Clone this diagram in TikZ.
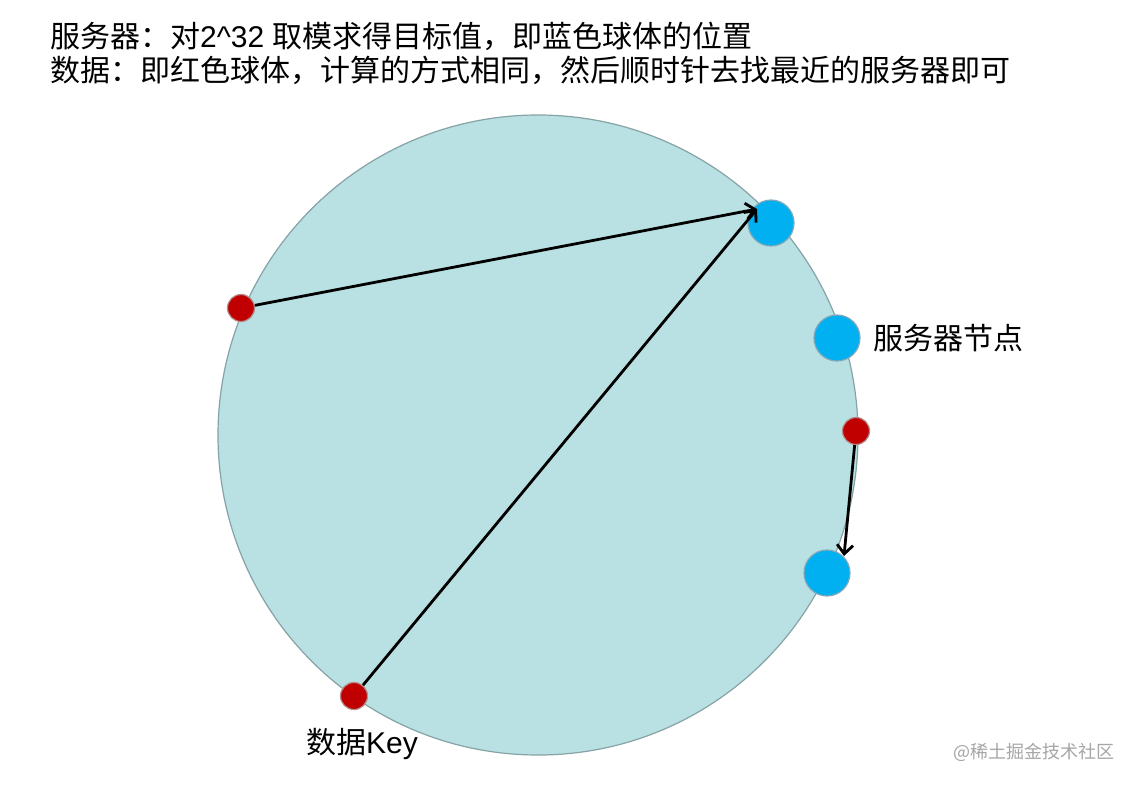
\documentclass[tikz,border=0pt]{standalone}
\usepackage{fontspec}
\setmainfont{Liberation Sans}
\newfontfamily\cjk{Noto Sans CJK SC}
\usetikzlibrary{arrows.meta}
\definecolor{ringfill}{HTML}{B9E0E2}
\definecolor{ringline}{HTML}{86A3A5}
\definecolor{srvblue}{HTML}{00B0F0}
\definecolor{srvline}{HTML}{7FA8BA}
\definecolor{keyred}{HTML}{C00000}
\definecolor{keyline}{HTML}{B58A8A}
\tikzset{
  ring/.style={circle, draw=ringline, fill=ringfill, line width=1.2pt, minimum size=640pt, inner sep=0pt},
  server/.style={circle, draw=srvline, fill=srvblue, line width=1.2pt, minimum size=46pt, inner sep=0pt},
  datakey/.style={circle, draw=keyline, fill=keyred, line width=1.2pt, minimum size=27pt, inner sep=0pt},
  link/.style={draw=black, line width=2.8pt, -{Straight Barb[length=9pt,width=16pt,line width=2.8pt]}},
  bigtext/.style={inner sep=0pt, font=\fontsize{30}{33}\selectfont},
  marktext/.style={inner sep=0pt, font=\cjk\fontsize{18}{20}\selectfont, text=black!35}
}
\begin{document}
\begin{tikzpicture}[x=1pt,y=-1pt]
\useasboundingbox (0,0) rectangle (1138,785);
\fill[white] (0,0) rectangle (1138,785);
\node[ring] (ring) at (538,435) {};
\node[server] (s1) at (771,223) {};
\node[server] (s2) at (837,338) {};
\node[server] (s3) at (827,573) {};
\node[datakey] (k1) at (241,308) {};
\node[datakey] (k2) at (856,431) {};
\node[datakey] (k3) at (354,696) {};
\coordinate (t1) at (757,209);
\coordinate (t3) at (844,556);
\draw[link] (k1) -- (t1);
\draw[link] (k3) -- (t1);
\draw[link] (k2) -- (t3);
\node[bigtext, anchor=base west] (line1) at (50,47) {{\cjk 服务器：对}2\textasciicircum32 {\cjk 取模求得目标值，即蓝色球体的位置}};
\node[bigtext, anchor=base west] (line2) at (50,81) {{\cjk 数据：即红色球体，计算的方式相同，然后顺时针去找最近的服务器即可}};
\node[bigtext, anchor=west] (slabel) at (873,338) {\cjk 服务器节点};
\node[bigtext, anchor=west] (klabel) at (306,744) {{\cjk 数据}Key};
\node[marktext, anchor=west] (mark) at (953,752) {@稀土掘金技术社区};
\end{tikzpicture}
\end{document}
